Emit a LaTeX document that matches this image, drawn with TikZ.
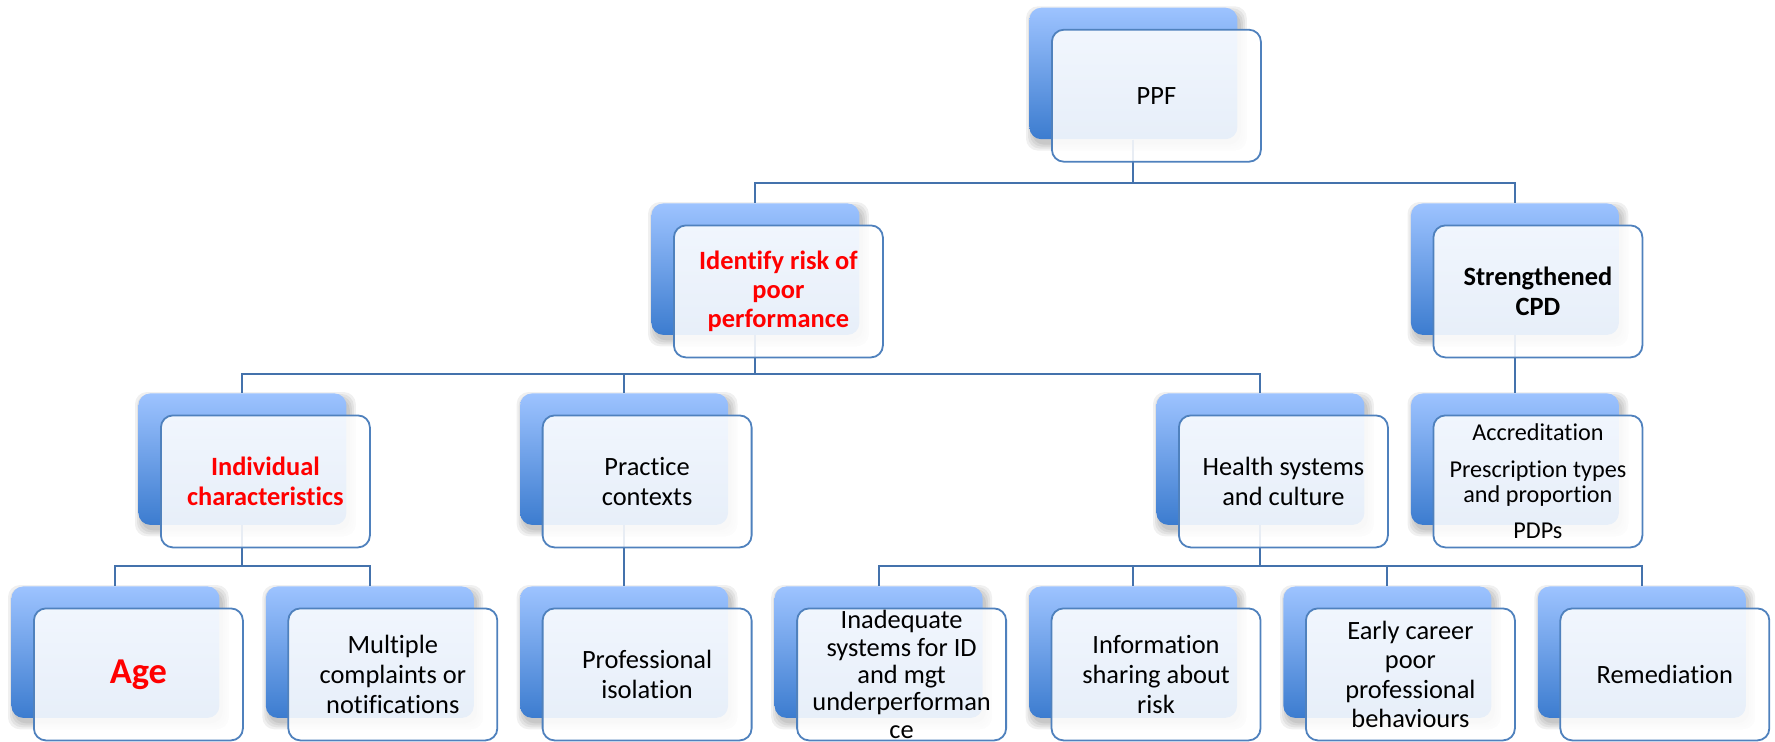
\documentclass[tikz,border=0pt]{standalone}
\usepackage{fontspec}
\setmainfont{Carlito}[RawFeature={-liga}]
\pgfdeclarelayer{shadowlayer}
\pgfdeclarelayer{backlayer}
\pgfdeclarelayer{connlayer}
\pgfsetlayers{shadowlayer,backlayer,connlayer,main}
\definecolor{bluetop}{RGB}{157,195,255}
\definecolor{bluebot}{RGB}{60,124,207}
\definecolor{frameblue}{RGB}{79,129,189}
\definecolor{connblue}{RGB}{68,114,172}
\tikzset{
  backbox/.style={rectangle, rounded corners=6pt, minimum width=104pt, minimum height=65.75pt,
    inner sep=0pt, top color=bluetop, bottom color=bluebot, draw=none, anchor=north west},
  frontbox/.style={rectangle, rounded corners=6pt, minimum width=104.5pt, minimum height=66pt,
    inner sep=0pt, draw=frameblue, line width=0.9pt, fill=white, fill opacity=0.88, anchor=north west},
  shadowbox/.style={fill=black, opacity=0.06, rounded corners=6pt},
  conn/.style={draw=connblue, line width=1pt},
  txt/.style={font=\fontsize{13.2}{14.8}\selectfont, align=center, inner sep=0pt, text=black},
  tighttxt/.style={txt, font=\fontsize{13.2}{13.7}\selectfont},
  rtxt/.style={txt, font=\fontsize{13.2}{14.6}\selectfont\bfseries, text=red},
  btxt/.style={txt, font=\fontsize{13.2}{14.6}\selectfont\bfseries},
  agetxt/.style={txt, font=\fontsize{18.2}{20}\selectfont\bfseries, text=red},
  smalltxt/.style={txt, font=\fontsize{12.1}{12.5}\selectfont},
}
\newcommand\duo[5]{%
  \begin{pgfonlayer}{backlayer}
    \node[backbox] (#1b) at (#2,#3) {};
  \end{pgfonlayer}
  \begin{pgfonlayer}{shadowlayer}
    \foreach \s in {0,1,2,3}{
      \fill[shadowbox] ([xshift=1.5pt-\s*1pt, yshift=-2.5pt+\s*1pt]#1b.north west)
        rectangle ([xshift=1.5pt+\s*1pt, yshift=-2.5pt-\s*1pt]#1b.south east);
    }
  \end{pgfonlayer}
  \node[frontbox] (#1) at ([xshift=11pt,yshift=-10.75pt]#1b.north west) {};
  \node[#4] (#1t) at (#1.center) {#5};
}
\begin{document}
\begin{tikzpicture}[x=0.5pt,y=-0.5pt]
\useasboundingbox (0,0) rectangle (1775,741);
% row 0
\duo{ppf}{1029}{7.3}{txt}{PPF}
% row 1
\duo{id}{651}{203}{rtxt}{Identify risk of\\ poor\\ performance}
\duo{sc}{1410.5}{203}{btxt}{Strengthened\\ CPD}
% row 2
\duo{ic}{138}{393}{rtxt}{Individual\\ characteristics}
\duo{pc}{519.7}{393}{txt}{Practice\\ contexts}
\duo{hs}{1156}{393}{txt}{Health systems\\ and culture}
\duo{ac}{1410.5}{393}{smalltxt}{Accreditation\\[5.8pt] Prescription types\\ and proportion\\[5.8pt] PDPs}
% row 3
\duo{ag}{11}{586}{agetxt}{Age}
\duo{mc}{265.4}{586}{txt}{Multiple\\ complaints or\\ notifications}
\duo{pi}{519.7}{586}{txt}{Professional\\ isolation}
\duo{in}{774.2}{586}{tighttxt}{Inadequate\\ systems for ID\\ and mgt\\ underperforman\\ ce}
\duo{is}{1028.6}{586}{txt}{Information\\ sharing about\\ risk}
\duo{ec}{1283}{586}{txt}{Early career\\ poor\\ professional\\ behaviours}
\duo{re}{1537.4}{586}{txt}{Remediation}
% connectors
\begin{pgfonlayer}{connlayer}
  \draw[conn] (ppfb.south) |- ([yshift=10pt]idb.north) -- (idb.north);
  \draw[conn] (ppfb.south) |- ([yshift=10pt]scb.north) -- (scb.north);
  \draw[conn] (idb.south) |- ([yshift=9.7pt]icb.north) -- (icb.north);
  \draw[conn] (idb.south) |- ([yshift=9.7pt]pcb.north) -- (pcb.north);
  \draw[conn] (idb.south) |- ([yshift=9.7pt]hsb.north) -- (hsb.north);
  \draw[conn] (scb.south) -- (acb.north);
  \draw[conn] (icb.south) |- ([yshift=9.8pt]agb.north) -- (agb.north);
  \draw[conn] (icb.south) |- ([yshift=9.8pt]mcb.north) -- (mcb.north);
  \draw[conn] (pcb.south) -- (pib.north);
  \draw[conn] (hsb.south) |- ([yshift=9.8pt]inb.north) -- (inb.north);
  \draw[conn] (hsb.south) |- ([yshift=9.8pt]isb.north) -- (isb.north);
  \draw[conn] (hsb.south) |- ([yshift=9.8pt]ecb.north) -- (ecb.north);
  \draw[conn] (hsb.south) |- ([yshift=9.8pt]reb.north) -- (reb.north);
\end{pgfonlayer}
\end{tikzpicture}
\end{document}
